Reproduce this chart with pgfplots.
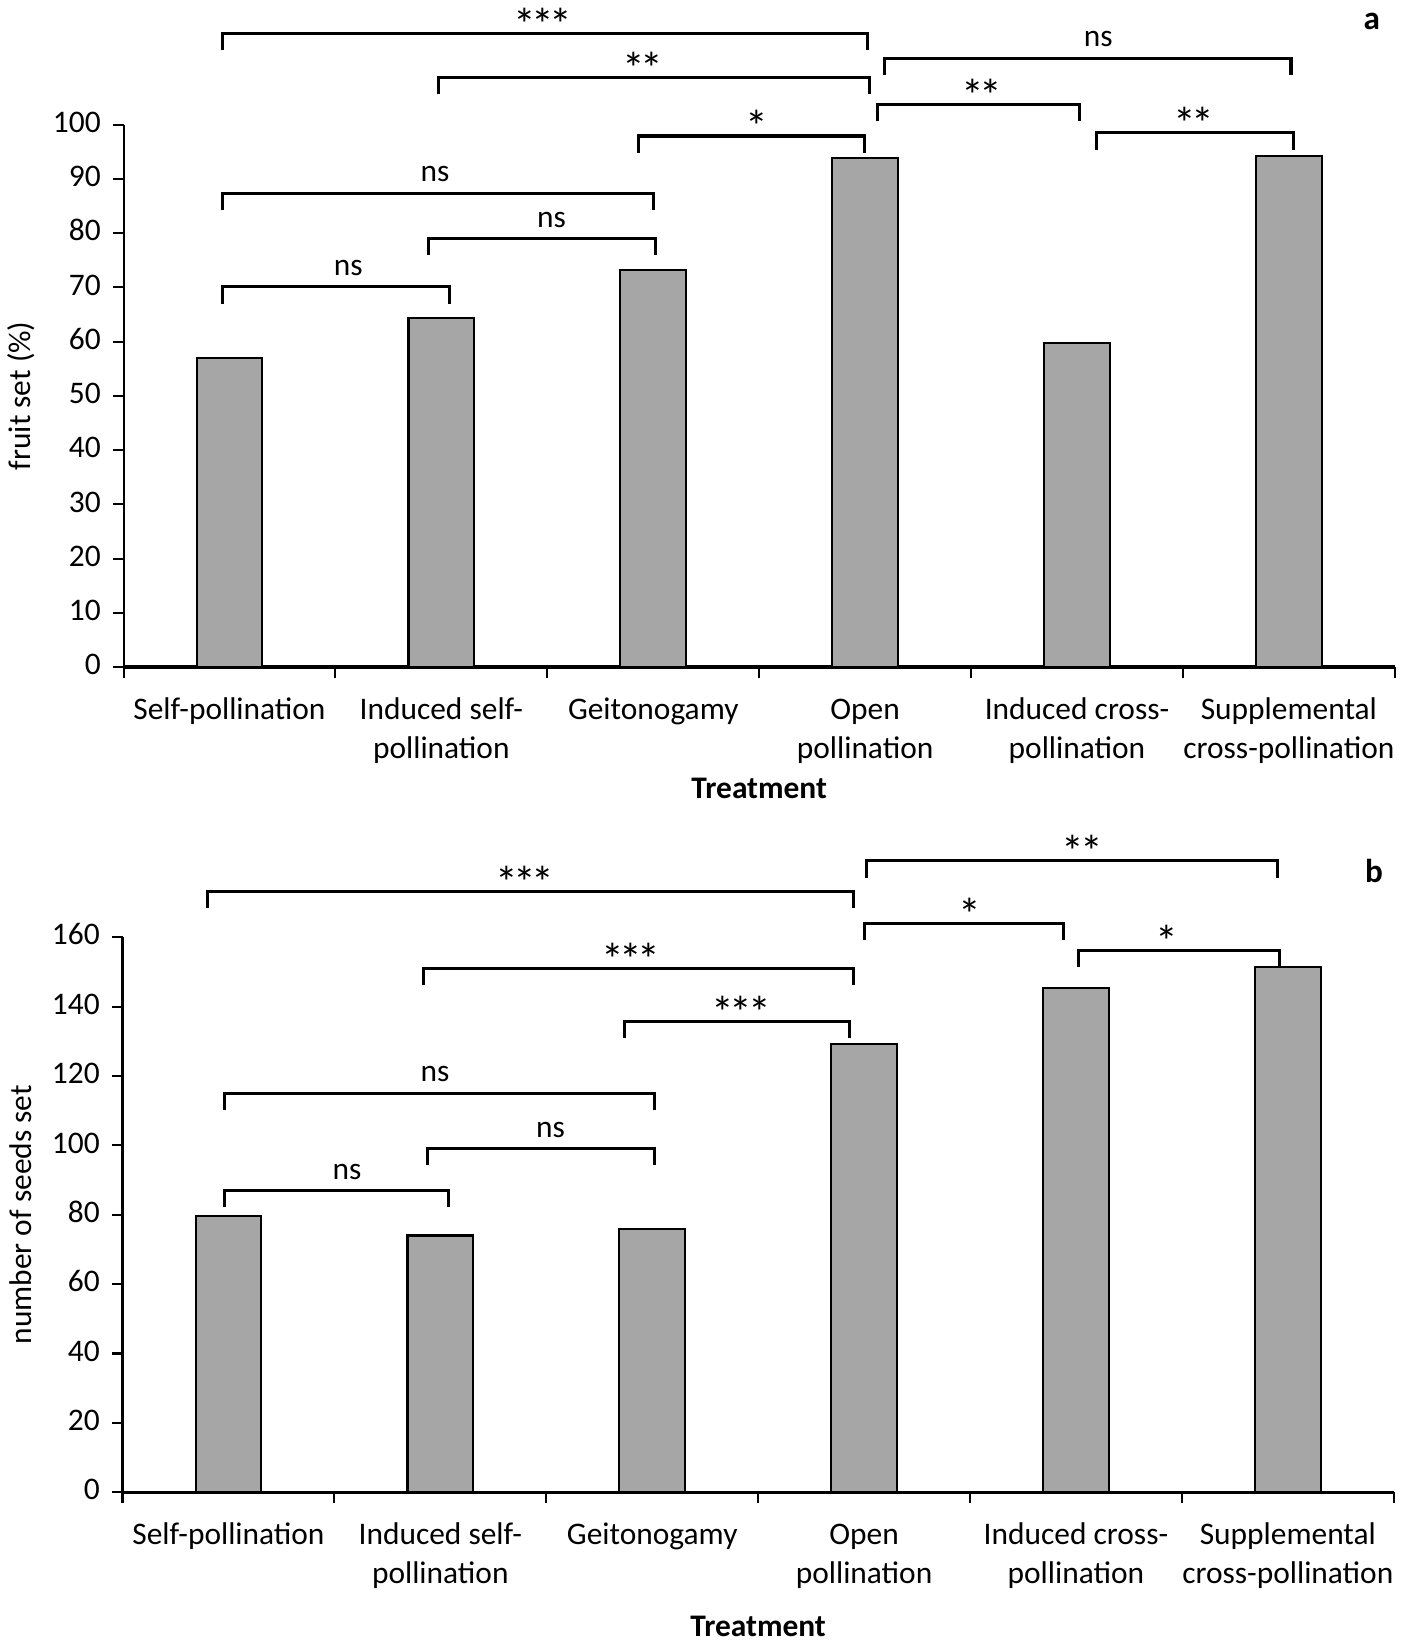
\documentclass[border=0pt]{standalone}
\usepackage{fontspec}
\setmainfont{Carlito}
\usepackage{graphicx}
\usepackage{pgfplots}
\pgfplotsset{compat=1.18}
\definecolor{barg}{HTML}{A6A6A6}
\newcommand{\lbl}{\fontsize{9}{11.1}\selectfont}
\newcommand{\sgst}{\scalebox{1.45}{*}}
\newcommand{\sgA}{\sgst}
\newcommand{\sgB}{\sgst\kern-1.3pt\sgst}
\newcommand{\sgC}{\sgst\kern-1.3pt\sgst\kern-1.3pt\sgst}
% x1, x2, y, legend, text x, text, yshift
\newcommand{\brk}[7]{%
  \draw[line width=0.9pt] (axis cs:#1,#4) -- (axis cs:#1,#3) -- (axis cs:#2,#3) -- (axis cs:#2,#4);
  \node[font=\lbl, anchor=base, yshift=#7, inner sep=0pt] at (axis cs:#5,#3) {#6};}
\pgfplotsset{
  excel/.style={
    scale only axis,
    width=364.2pt,
    axis x line=bottom, axis y line=left,
    axis line style={-, black},
    x axis line style={line width=0.9pt},
    y axis line style={line width=0.6pt},
    xmin=-0.5, xmax=5.5,
    xtick={-0.5,0.5,...,5.5},
    x tick label as interval,
    xticklabels={Self-pollination, Induced self-\\pollination, Geitonogamy, Open\\pollination, Induced cross-\\pollination, Supplemental\\cross-pollination},
    typeset ticklabels with strut,
    xticklabel style={align=center, font=\lbl, anchor=north, yshift=-0.8pt},
    yticklabel style={font=\lbl},
    /pgf/number format/assume math mode=true,
    tick align=outside,
    major tick length=3pt,
    tick style={black, line width=0.6pt},
    enlargelimits=false,
    clip=false,
    every axis y label/.style={rotate=90, anchor=center, font=\lbl},
    every axis x label/.style={anchor=center, font=\lbl\bfseries},
  },
  mybar/.style={ybar, bar width=0.31, fill=barg, draw=black, line width=0.6pt}
}
\begin{document}
\begin{tikzpicture}[x=1pt,y=1pt]
\useasboundingbox (0,0) rectangle (402,-470.7);
% Panel a
\begin{axis}[excel, at={(35.4pt,-191.1pt)}, anchor=south west, height=155.4pt,
  ymin=0, ymax=100, ytick={0,10,...,100},
  ylabel={fruit set (\%)}, ylabel style={at={(axis description cs:-0.0807,0.5)}},
  xlabel={Treatment}, xlabel style={at={(axis description cs:0.5,-0.224)}}]
\addplot[mybar] coordinates {(0,57.0) (1,64.4) (2,73.2) (3,93.8) (4,59.8) (5,94.2)};
\brk{-0.035}{3.01}{116.8}{113.7}{1.48}{\sgC}{-2pt}
\brk{0.985}{3.02}{108.7}{105.6}{1.95}{\sgB}{-2pt}
\brk{3.09}{5.01}{112.2}{109.1}{4.10}{ns}{3.3pt}
\brk{3.06}{4.01}{103.7}{100.6}{3.55}{\sgB}{-2pt}
\brk{1.93}{2.995}{97.9}{94.8}{2.49}{\sgA}{-2pt}
\brk{4.09}{5.02}{98.5}{95.4}{4.55}{\sgB}{-2pt}
\brk{-0.035}{2.0}{87.3}{84.2}{0.97}{ns}{3.3pt}
\brk{0.94}{2.01}{79.0}{75.9}{1.52}{ns}{3.3pt}
\brk{-0.035}{1.04}{70.1}{67.0}{0.56}{ns}{3.3pt}
\end{axis}
% Panel b
\begin{axis}[excel, at={(35.1pt,-427.5pt)}, anchor=south west, height=159pt,
  ymin=0, ymax=160, ytick={0,20,...,160},
  ylabel={number of seeds set}, ylabel style={at={(axis description cs:-0.080,0.5)}},
  xlabel={Treatment}, xlabel style={at={(axis description cs:0.5,-0.2415)}}]
\addplot[mybar] coordinates {(0,79.7) (1,74.0) (2,75.8) (3,129.2) (4,145.3) (5,151.3)};
\brk{-0.10}{2.95}{173.3}{168.5}{1.40}{\sgC}{-2pt}
\brk{3.01}{4.95}{182.0}{177.2}{4.03}{\sgB}{-2pt}
\brk{3.0}{3.94}{163.9}{159.1}{3.50}{\sgA}{-2pt}
\brk{4.01}{4.96}{156.1}{151.3}{4.43}{\sgA}{-2pt}
\brk{0.92}{2.95}{150.9}{146.1}{1.90}{\sgC}{-2pt}
\brk{1.87}{2.93}{135.8}{131.0}{2.42}{\sgC}{-2pt}
\brk{-0.02}{2.01}{115.0}{110.2}{0.975}{ns}{3.3pt}
\brk{0.94}{2.01}{99.0}{94.2}{1.52}{ns}{3.3pt}
\brk{-0.02}{1.04}{86.9}{82.1}{0.56}{ns}{3.3pt}
\end{axis}
\node[font=\fontsize{9.5}{11}\selectfont\bfseries] at (393,-6) {a};
\node[font=\fontsize{9.5}{11}\selectfont\bfseries] at (393.6,-249.6) {b};
\end{tikzpicture}
\end{document}
